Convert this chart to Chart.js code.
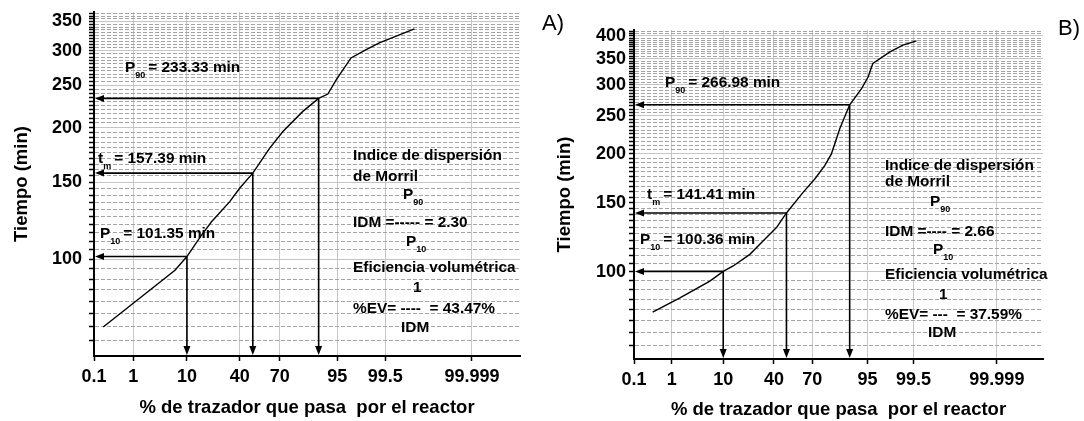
<!DOCTYPE html>
<html>
<head>
<meta charset="utf-8">
<script src="https://cdn.jsdelivr.net/npm/chart.js@4.4.1/dist/chart.umd.min.js"></script>
<style>
  html, body { margin: 0; padding: 0; background: #fff; }
  #wrap { position: relative; width: 1084px; height: 421px; overflow: hidden; }
  canvas { position: absolute; top: 0; }
  #chartA { left: 0; }
  #chartB { left: 542px; }
</style>
</head>
<body>
<div id="wrap">
  <canvas id="chartA" width="580" height="421"></canvas>
  <canvas id="chartB" width="542" height="421"></canvas>
</div>
<script>
// curva A: % de trazador que pasa vs tiempo (min)
const pctA  = [0.18, 6.5, 10, 15.9, 21.1, 32.7, 39.9, 50, 62.9, 72.1, 83.5, 90, 92.8, 94.8, 97.2, 98.63, 99.31, 99.917];
const timeA = [69.9, 94.3, 101.35, 113.5, 121.8, 135.4, 145.3, 157.39, 179.5, 196, 217.9, 233.33, 238.8, 257.6, 288.8, 301.9, 312.8, 336.7];

// curva B
const pctB  = [0.334, 1.54, 6.03, 10, 14, 22.9, 34.3, 42, 50, 63.2, 71.7, 78.1, 81.9, 86, 90, 93.6, 95.1, 96.0, 98.2, 99.09, 99.58];
const timeB = [79.0, 85.9, 94.8, 100.36, 103.6, 110.9, 122.4, 129.8, 141.41, 159.6, 172.6, 186.7, 200.1, 231.8, 266.98, 293.5, 314.2, 340.1, 364.1, 378.7, 388.5];

// P10, tm, P90
const markPct   = [10, 50, 90];
const markTimeA = [101.35, 157.39, 233.33];
const markTimeB = [100.36, 141.41, 266.98];
const idmA = '2.30', evA = '43.47%';
const idmB = '2.66', evB = '37.59%';

const xTickPct  = [0.1, 1, 10, 40, 70, 95, 99.5, 99.999];
const xTickText = ['0.1', '1', '10', '40', '70', '95', '99.5', '99.999'];
const yMajorA = [100, 150, 200, 250, 300, 350];
const yMajorB = [100, 150, 200, 250, 300, 350, 400];

const FONT = '"Liberation Sans", Arial, sans-serif';

// inverse normal CDF (Acklam) -> escala de probabilidad
function probit(p) {
  const a = [-3.969683028665376e+01, 2.209460984245205e+02, -2.759285104469687e+02, 1.383577518672690e+02, -3.066479806614716e+01, 2.506628277459239e+00];
  const b = [-5.447609879822406e+01, 1.615858368580409e+02, -1.556989798598866e+02, 6.680131188771972e+01, -1.328068155288572e+01];
  const c = [-7.784894002430293e-03, -3.223964580411365e-01, -2.400758277161838e+00, -2.549732539343734e+00, 4.374664141464968e+00, 2.938163982698783e+00];
  const d = [7.784695709041462e-03, 3.224671290700398e-01, 2.445134137142996e+00, 3.754408661907416e+00];
  const pl = 0.02425;
  let q, r;
  if (p < pl) {
    q = Math.sqrt(-2 * Math.log(p));
    return (((((c[0]*q+c[1])*q+c[2])*q+c[3])*q+c[4])*q+c[5]) / ((((d[0]*q+d[1])*q+d[2])*q+d[3])*q+1);
  }
  if (p > 1 - pl) {
    q = Math.sqrt(-2 * Math.log(1 - p));
    return -(((((c[0]*q+c[1])*q+c[2])*q+c[3])*q+c[4])*q+c[5]) / ((((d[0]*q+d[1])*q+d[2])*q+d[3])*q+1);
  }
  q = p - 0.5; r = q * q;
  return (((((a[0]*r+a[1])*r+a[2])*r+a[3])*r+a[4])*r+a[5])*q / (((((b[0]*r+b[1])*r+b[2])*r+b[3])*r+b[4])*r+1);
}
const z = (pct) => probit(pct / 100);

function minorTicks(min, max, majors) {
  const out = [];
  for (let v = min + 5; v < max; v += 5) {
    if (!majors.includes(v)) out.push(v);
  }
  return out;
}

function arrowHead(ctx, x, y, dir) {
  const len = 9, hw = 3.5;
  ctx.beginPath();
  if (dir === 'left') {
    ctx.moveTo(x, y); ctx.lineTo(x + len, y - hw); ctx.lineTo(x + len, y + hw);
  } else {
    ctx.moveTo(x, y); ctx.lineTo(x - hw, y - len); ctx.lineTo(x + hw, y - len);
  }
  ctx.closePath();
  ctx.fill();
}

// flechas de P10, tm y P90 hacia los ejes
const guidePlugin = {
  id: 'guides',
  afterDatasetsDraw(chart, args, opts) {
    const { ctx, scales: { x, y } } = chart;
    ctx.save();
    ctx.strokeStyle = '#000';
    ctx.fillStyle = '#000';
    ctx.lineWidth = 1.6;
    markPct.forEach((pc, i) => {
      const px = x.getPixelForValue(z(pc));
      const py = y.getPixelForValue(opts.times[i]);
      ctx.beginPath();
      ctx.moveTo(px, py);
      ctx.lineTo(x.left + 8, py);
      ctx.moveTo(px, py);
      ctx.lineTo(px, y.bottom - 8);
      ctx.stroke();
      arrowHead(ctx, x.left + 1, py, 'left');
      arrowHead(ctx, px, y.bottom - 1, 'down');
    });
    ctx.restore();
  }
};

// textos con subíndice
function subText(ctx, x, y, main, sub, rest) {
  ctx.font = 'bold 15.4px ' + FONT;
  ctx.fillText(main, x, y);
  let cx = x + ctx.measureText(main).width;
  ctx.font = 'bold 9px ' + FONT;
  ctx.fillText(sub, cx, y + 8);
  cx += ctx.measureText(sub).width + 3;
  if (rest) {
    ctx.font = 'bold 15.4px ' + FONT;
    ctx.fillText(rest, cx, y);
  }
}

const notesPlugin = {
  id: 'notes',
  afterDraw(chart, args, o) {
    const ctx = chart.ctx;
    ctx.save();
    ctx.fillStyle = '#000';
    ctx.textBaseline = 'middle';
    ctx.textAlign = 'left';
    const t = o.times;
    subText(ctx, o.p90[0], o.p90[1], 'P', '90', '= ' + t[2].toFixed(2) + ' min');
    subText(ctx, o.tm[0], o.tm[1], 't', 'm', '= ' + t[1].toFixed(2) + ' min');
    subText(ctx, o.p10[0], o.p10[1], 'P', '10', '= ' + t[0].toFixed(2) + ' min');

    const f = o.formula;
    ctx.font = 'bold 15.4px ' + FONT;
    ctx.fillText('Indice de dispersión', f.x, f.rows[0]);
    ctx.fillText('de Morril', f.x, f.rows[1]);
    subText(ctx, f.fracX, f.rows[2], 'P', '90');
    ctx.font = 'bold 15.4px ' + FONT;
    ctx.fillText('IDM =' + f.bar + ' = ' + o.idm, f.x, f.rows[3]);
    subText(ctx, f.fracX + 3, f.rows[4], 'P', '10');
    ctx.font = 'bold 15.4px ' + FONT;
    ctx.fillText('Eficiencia volumétrica', f.x, f.rows[5]);
    ctx.fillText('1', f.oneX, f.rows[6]);
    ctx.fillText('%EV= ' + f.bar2 + '  = ' + o.ev, f.x, f.rows[7]);
    ctx.fillText('IDM', f.idmX, f.rows[8]);

    ctx.font = '22px ' + FONT;
    ctx.textBaseline = 'alphabetic';
    ctx.fillText(o.tag, o.tagPos[0], o.tagPos[1]);
    ctx.restore();
  }
};

function makeChart(id, cfg) {
  const majors = cfg.majors;
  const yTicks = majors.concat(minorTicks(60, cfg.yMax, majors)).sort((a, b) => a - b);
  const isMajor = (v) => majors.includes(Math.round(v));

  return new Chart(document.getElementById(id), {
    type: 'line',
    data: {
      datasets: [{
        data: cfg.pct.map((p, i) => ({ x: z(p), y: cfg.time[i] })),
        borderColor: '#000',
        borderWidth: 1.4,
        pointRadius: 0,
        tension: 0,
        fill: false
      }]
    },
    options: {
      responsive: false,
      animation: false,
      layout: { padding: { top: cfg.padTop, right: cfg.padRight, left: 0, bottom: 0 } },
      plugins: {
        legend: { display: false },
        tooltip: { enabled: false },
        guides: { times: cfg.marks },
        notes: cfg.notes
      },
      scales: {
        x: {
          type: 'linear',
          min: z(0.1),
          max: 5.2,
          afterBuildTicks: (s) => { s.ticks = xTickPct.map((p) => ({ value: z(p) })); },
          afterFit: (s) => { s.height = cfg.xAxisH; s.paddingLeft = 0; s.paddingRight = 0; },
          ticks: {
            autoSkip: false,
            maxRotation: 0,
            padding: 5,
            color: '#000',
            font: { family: FONT, size: 18, weight: 'bold' },
            callback: (v, i) => xTickText[i]
          },
          grid: { color: '#c8c8c8', lineWidth: 1, tickLength: 5, tickColor: '#000', tickWidth: 1.5 },
          border: { color: '#000', width: 2 },
          title: {
            display: true,
            text: '% de trazador que pasa  por el reactor',
            color: '#000',
            font: { family: FONT, size: 18.5, weight: 'bold' },
            padding: { top: 0, bottom: cfg.xTitlePad }
          }
        },
        y: {
          type: 'logarithmic',
          min: 60,
          max: cfg.yMax,
          afterBuildTicks: (s) => { s.ticks = yTicks.map((v) => ({ value: v })); },
          afterFit: (s) => { s.width = cfg.yAxisW; s.paddingTop = 0; s.paddingBottom = 0; },
          ticks: {
            autoSkip: false,
            padding: cfg.yTickPad,
            color: '#000',
            font: { family: FONT, size: 18, weight: 'bold' },
            callback: (v) => (isMajor(v) ? String(Math.round(v)) : '')
          },
          grid: {
            color: (c) => (c.tick && isMajor(c.tick.value) ? '#c4c4c4' : '#a4a4a4'),
            lineWidth: 1,
            tickLength: 5,
            tickColor: '#000',
            tickWidth: 1.5
          },
          border: {
            color: '#000',
            width: 2,
            dash: (c) => (c.tick && !isMajor(c.tick.value) ? [4, 2] : [])
          },
          title: {
            display: true,
            text: 'Tiempo (min)',
            color: '#000',
            font: { family: FONT, size: 18.5, weight: 'bold' },
            padding: { top: cfg.yTitlePad, bottom: 0 }
          }
        }
      }
    },
    plugins: [guidePlugin, notesPlugin]
  });
}

makeChart('chartA', {
  pct: pctA, time: timeA, marks: markTimeA, majors: yMajorA, yMax: 368,
  padTop: 12, padRight: 60, xAxisH: 65, yAxisW: 94,
  yTickPad: 7, yTitlePad: 11, xTitlePad: 2,
  notes: {
    times: markTimeA, idm: idmA, ev: evA, tag: 'A)', tagPos: [542, 30],
    p90: [125, 68], tm: [98, 159], p10: [100, 234],
    formula: { x: 353, fracX: 403, oneX: 413, idmX: 401, bar: '-----', bar2: '----',
               rows: [156, 177, 195, 223, 242, 268, 288, 309, 328] }
  }
});

makeChart('chartB', {
  pct: pctB, time: timeB, marks: markTimeB, majors: yMajorB, yMax: 414,
  padTop: 30, padRight: 41, xAxisH: 62, yAxisW: 92,
  yTickPad: 3, yTitlePad: 12, xTitlePad: 0,
  notes: {
    times: markTimeB, idm: idmB, ev: evB, tag: 'B)', tagPos: [516, 35],
    p90: [123, 83], tm: [105, 195], p10: [98, 240],
    formula: { x: 343, fracX: 388, oneX: 397, idmX: 386, bar: '----', bar2: '---',
               rows: [166, 182, 202, 232, 250, 275, 295, 315, 333] }
  }
});
</script>
</body>
</html>
